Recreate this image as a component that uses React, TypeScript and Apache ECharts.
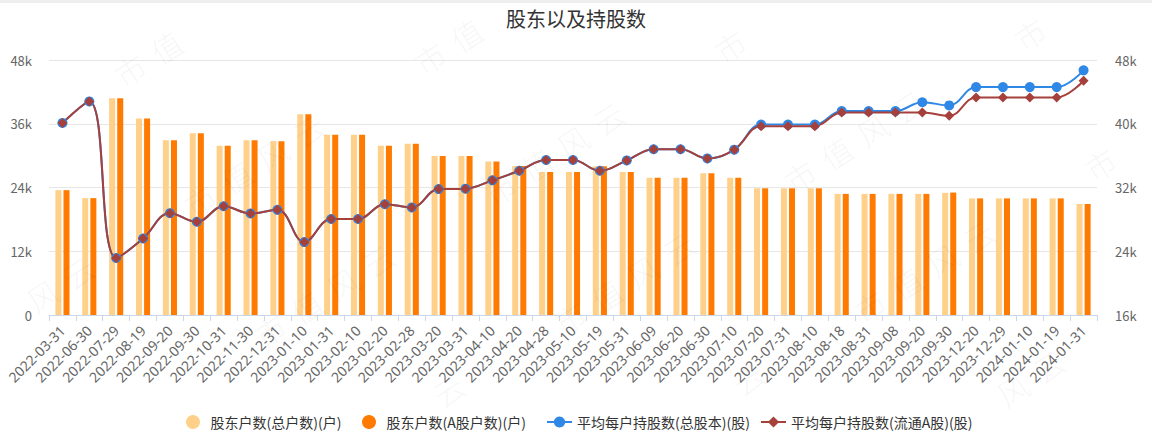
import React, { useEffect, useRef } from "react";
import * as echarts from "echarts";

const categories = [
  "2022-03-31", "2022-06-30", "2022-07-29", "2022-08-19", "2022-09-20", "2022-09-30",
  "2022-10-31", "2022-11-30", "2022-12-31", "2023-01-10", "2023-01-31", "2023-02-10",
  "2023-02-20", "2023-02-28", "2023-03-20", "2023-03-31", "2023-04-10", "2023-04-20",
  "2023-04-28", "2023-05-10", "2023-05-19", "2023-05-31", "2023-06-09", "2023-06-20",
  "2023-06-30", "2023-07-10", "2023-07-20", "2023-07-31", "2023-08-10", "2023-08-18",
  "2023-08-31", "2023-09-08", "2023-09-20", "2023-09-30", "2023-12-20", "2023-12-29",
  "2024-01-10", "2024-01-19", "2024-01-31",
];

// 股东户数(总户数)(户)
const holdersTotal = [
  23500, 22000, 40800, 37000, 32900, 34200, 31850, 32900, 32700, 37800, 33950, 33950,
  31850, 32250, 29950, 29950, 28900, 28050, 26900, 26900, 28000, 26900, 25850, 25850,
  26700, 25850, 23850, 23850, 23850, 22800, 22800, 22800, 22800, 23000, 21950, 21950,
  21950, 21950, 20900,
];

// 股东户数(A股户数)(户)
const holdersA = [
  23500, 22000, 40800, 37000, 32900, 34200, 31850, 32900, 32700, 37800, 33950, 33950,
  31850, 32250, 29950, 29950, 28900, 28050, 26900, 26900, 28000, 26900, 25850, 25850,
  26700, 25850, 23850, 23850, 23850, 22800, 22800, 22800, 22800, 23050, 21950, 21950,
  21950, 21950, 20900,
];

// 平均每户持股数(总股本)(股)
const avgTotal = [
  40100, 42800, 23150, 25600, 28780, 27700, 29650, 28750, 29200, 25150, 28050, 28050,
  29900, 29500, 31800, 31850, 32900, 34100, 35450, 35450, 34100, 35400, 36800, 36800,
  35650, 36750, 39900, 39900, 39900, 41600, 41600, 41600, 42700, 42300, 44600, 44600,
  44600, 44600, 46700,
];

// 平均每户持股数(流通A股)(股)
const avgFloat = [
  40100, 42800, 23150, 25600, 28780, 27700, 29650, 28750, 29200, 25150, 28050, 28050,
  29900, 29500, 31800, 31850, 32900, 34100, 35450, 35450, 34100, 35400, 36800, 36800,
  35650, 36750, 39700, 39700, 39700, 41400, 41400, 41400, 41400, 41000, 43300, 43300,
  43300, 43300, 45400,
];

const seriesNames = [
  "股东户数(总户数)(户)",
  "股东户数(A股户数)(户)",
  "平均每户持股数(总股本)(股)",
  "平均每户持股数(流通A股)(股)",
];

const leftTicks = { min: 0, max: 48000, interval: 12000 };
const rightTicks = { min: 16000, max: 48000, interval: 8000 };

const watermarkText = ["市", "值", "风", "云"];

const FONT = "'Noto Sans CJK SC', 'Noto Sans', sans-serif";

function kFormat(v: number) {
  return v === 0 ? "0" : v / 1000 + "k";
}

function buildWatermark() {
  const items: any[] = [];
  const th = (33 * Math.PI) / 180;
  for (let r = -2; r <= 4; r++) {
    for (let c = -2; c <= 5; c++) {
      const x0 = 130 + 300 * c + 70 * r;
      const y0 = 70 - 12 * c + 130 * r;
      watermarkText.forEach((ch, k) => {
        const x = x0 + 43 * k * Math.cos(th);
        const y = y0 - 43 * k * Math.sin(th);
        if (x < 24 || x > 1128 || y < 28 || y > 392) return;
        items.push({
          type: "text",
          x,
          y,
          rotation: th,
          silent: true,
          z: 100,
          style: {
            text: ch,
            fontSize: 31,
            fontFamily: FONT,
            fontWeight: 300,
            fill: "rgba(0,0,0,0.055)",
            align: "center",
            verticalAlign: "middle",
          },
        });
      });
    }
  }
  return items;
}

const legendLefts = [181, 357, 541, 755];

export default function App() {
  const ref = useRef<HTMLDivElement>(null);

  useEffect(() => {
    document.body.style.margin = "0";
    if (!ref.current) return;
    const chart = echarts.init(ref.current, undefined, { renderer: "svg" });
    chart.setOption({
      animation: false,
      backgroundColor: "#ffffff",
      textStyle: { fontFamily: FONT },
      title: {
        text: "股东以及持股数",
        left: "center",
        top: 3,
        textStyle: { fontSize: 20, fontWeight: "normal", color: "#333", fontFamily: FONT },
      },
      legend: seriesNames.map((name, i) => ({
        left: legendLefts[i],
        top: 410,
        itemGap: 0,
        itemWidth: 25,
        itemHeight: 14,
        textStyle: { fontSize: 14, color: "#333", fontFamily: FONT },
        data: [i < 2 ? { name, icon: "circle" } : { name }],
      })),
      grid: { left: 49, right: 55, top: 60, bottom: 122, containLabel: false },
      xAxis: {
        type: "category",
        data: categories,
        boundaryGap: true,
        axisLine: { lineStyle: { color: "#ccd6eb" } },
        axisTick: { show: true, length: 6, lineStyle: { color: "#ccd6eb" } },
        axisLabel: {
          interval: 0,
          rotate: 45,
          fontSize: 14,
          color: "#666",
          margin: 13,
          fontFamily: "'Noto Sans', sans-serif",
        },
      },
      yAxis: [
        {
          type: "value",
          min: leftTicks.min,
          max: leftTicks.max,
          interval: leftTicks.interval,
          axisLine: { show: false },
          axisTick: { show: false },
          axisLabel: { formatter: kFormat, color: "#666", fontSize: 13, margin: 17, fontFamily: FONT },
          splitLine: { lineStyle: { color: "#e6e6e6" } },
        },
        {
          type: "value",
          min: rightTicks.min,
          max: rightTicks.max,
          interval: rightTicks.interval,
          axisLine: { show: false },
          axisTick: { show: false },
          axisLabel: { formatter: kFormat, color: "#666", fontSize: 13, margin: 18, fontFamily: FONT },
          splitLine: { show: false },
        },
      ],
      series: [
        {
          name: seriesNames[0],
          type: "bar",
          data: holdersTotal,
          barWidth: 6,
          barGap: "35%",
          itemStyle: { color: "#ffd08a" },
        },
        {
          name: seriesNames[1],
          type: "bar",
          data: holdersA,
          barWidth: 6,
          barGap: "35%",
          itemStyle: { color: "#ff7a00" },
        },
        {
          name: seriesNames[2],
          type: "line",
          yAxisIndex: 1,
          data: avgTotal,
          smooth: 0.4,
          symbol: "circle",
          symbolSize: 10,
          showAllSymbol: true,
          lineStyle: { color: "#2f87e6", width: 2 },
          itemStyle: { color: "#2f87e6" },
        },
        {
          name: seriesNames[3],
          type: "line",
          yAxisIndex: 1,
          data: avgFloat,
          smooth: 0.4,
          symbol: "diamond",
          symbolSize: 10,
          showAllSymbol: true,
          lineStyle: { color: "#a5403b", width: 2 },
          itemStyle: { color: "#a5403b" },
        },
      ],
      graphic: [
        {
          type: "rect",
          shape: { x: 0, y: 0, width: 1152, height: 3 },
          style: { fill: "#eeeeee" },
          silent: true,
          z: 50,
        },
        ...buildWatermark(),
      ],
    });
    return () => chart.dispose();
  }, []);

  return <div ref={ref} style={{ width: 1152, height: 437 }} />;
}
